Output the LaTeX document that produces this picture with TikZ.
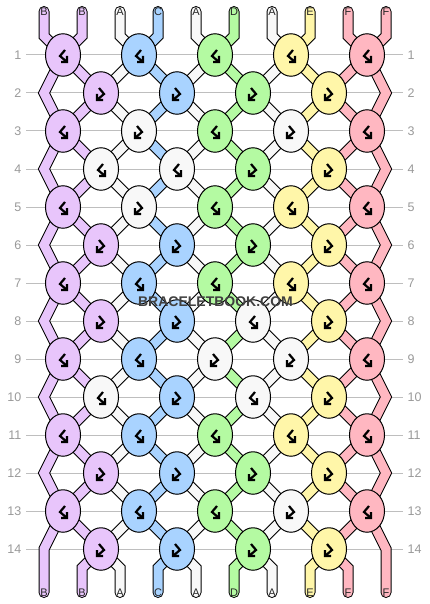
\documentclass[tikz,border=0pt]{standalone}
\usepackage{fontspec}
\setmainfont{Liberation Sans}
\usetikzlibrary{shapes.geometric,backgrounds}
\definecolor{colA}{HTML}{F8F8F8}
\definecolor{colB}{HTML}{E8C5FB}
\definecolor{colC}{HTML}{A9D3FF}
\definecolor{colD}{HTML}{B4FAA2}
\definecolor{colE}{HTML}{FFF6A9}
\definecolor{colF}{HTML}{FFB7C1}
\definecolor{rowgray}{HTML}{BEBEBE}
\definecolor{numgray}{HTML}{9A9A9A}
\tikzset{
  knot/.style={ellipse,draw=black,line width=1pt,minimum width=35pt,minimum height=42.5pt,inner sep=0pt},
  knotsym/.style={draw=black,line width=2.2pt,line join=miter},
  thread/.style={draw=black,line width=1pt,double distance=9pt,line cap=round,line join=miter},
  tag/.style={inner sep=0pt,text=black!85,font=\fontsize{11}{11}\selectfont},
  rownum/.style={inner xsep=4.5pt,inner ysep=0pt,text=numgray,font=\fontsize{12.5}{12.5}\selectfont},
  rowline/.style={draw=rowgray,line width=1pt}
}
% knot symbols: backward-forward and forward-backward
\newcommand{\knotbf}[1]{\draw[knotsym,shift={(#1)}] (2,-5) -- (-3,1) -- (4,7) (-2,7) -- (4,7) -- (4,1);}
\newcommand{\knotfb}[1]{\draw[knotsym,shift={(#1)}] (-2,-5) -- (3,1) -- (-4,7) (2,7) -- (-4,7) -- (-4,1);}

\begin{document}
\begin{tikzpicture}[x=1pt,y=-1pt]
\useasboundingbox (0,0) rectangle (430,604);
% knots, row by row
\foreach \r/\ks in {
  1/{B/bf,C/bf,D/bf,E/bf,F/bf},
  2/{B/fb,C/fb,D/fb,E/fb},
  3/{B/bf,A/fb,D/bf,A/fb,F/bf},
  4/{A/bf,A/bf,D/fb,E/fb},
  5/{B/bf,A/fb,D/bf,E/bf,F/bf},
  6/{B/fb,C/fb,D/fb,E/fb},
  7/{B/bf,C/bf,D/bf,E/bf,F/bf},
  8/{B/fb,C/fb,A/bf,E/fb},
  9/{B/bf,C/bf,A/fb,A/fb,F/bf},
  10/{A/bf,C/fb,A/bf,E/fb},
  11/{B/bf,C/bf,D/bf,E/bf,F/bf},
  12/{B/fb,C/fb,D/fb,E/fb},
  13/{B/bf,C/bf,D/bf,A/fb,F/bf},
  14/{B/fb,C/fb,D/fb,E/fb}}{
  \pgfmathtruncatemacro\yy{55+38*(\r-1)}
  \ifodd\r \def\xo{63}\else \def\xo{101}
    \coordinate (k\r-0) at (44,\yy);
    \coordinate (k\r-5) at (386,\yy);
  \fi
  \foreach \c/\s [count=\j] in \ks {
    \node (k\r-\j) [knot,fill=col\c] at (\xo+76*\j-76,\yy) {};
    \csname knot\s\endcsname{k\r-\j}
  }
  \node (nl\r) [rownum,anchor=east] at (26,\yy) {\r};
  \node (nr\r) [rownum,anchor=west] at (403,\yy) {\r};
}
% thread ends
\foreach \c [count=\i] in {B,B,A,C,A,D,A,E,F,F}{
  \pgfmathtruncatemacro\xx{44+38*(\i-1)}
  \node (top\i) [tag] at (\xx,11.5) {\c};
  \coordinate (tb\i) at (\xx,36);
  \coordinate (bb\i) at (\xx,568);
  \node (bot\i) [tag] at (\xx,592.5) {\c};
}
\node (mark) [font=\bfseries\fontsize{14}{14}\selectfont,text=black!75] at (215.5,301.5) {BRACELETBOOK.COM};

\begin{pgfonlayer}{background}
\fill[white] (0,0) rectangle (430,604);
\foreach \r in {1,...,14}
  \draw[rowline] (nl\r.east) -- (nr\r.west);
\foreach \c [count=\i] in {B,B,A,C,A,D,A,E,F,F}{
  \pgfmathtruncatemacro\jo{(\i+1)/2}
  \pgfmathtruncatemacro\je{\i/2}
  \draw[thread,double=col\c] (top\i.center) -- (tb\i)
    \foreach \r [evaluate=\r as \s using int(\r+1)] in {1,3,...,13}{
      -- (k\r-\jo.center) -- (k\s-\je.center)}
    -- (bb\i) -- (bot\i.center);
}
\end{pgfonlayer}
\end{tikzpicture}
\end{document}
